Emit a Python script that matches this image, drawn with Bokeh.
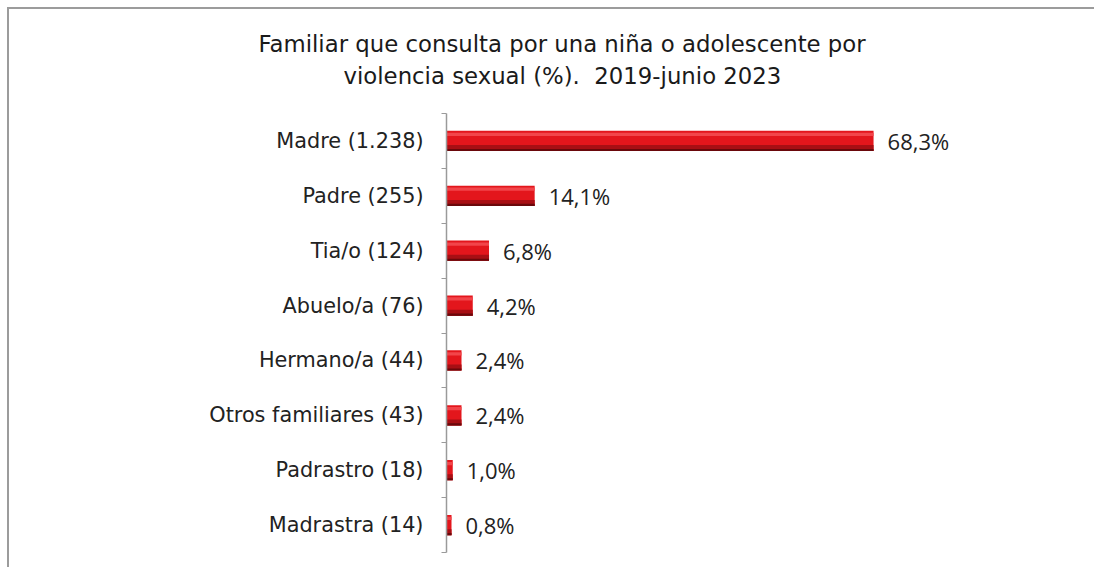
from bokeh.plotting import figure
from bokeh.layouts import column
from bokeh.models import FixedTicker, ColumnDataSource, Title
from bokeh.core.properties import value
from bokeh.embed import file_html
from bokeh.resources import INLINE
import numpy as np

categories = ["Madre (1.238)", "Padre (255)", "Tia/o (124)", "Abuelo/a (76)",
              "Hermano/a (44)", "Otros familiares (43)", "Padrastro (18)", "Madrastra (14)"]
percent = [68.3, 14.1, 6.8, 4.2, 2.4, 2.4, 1.0, 0.8]
labels = ["68,3%", "14,1%", "6,8%", "4,2%", "2,4%", "2,4%", "1,0%", "0,8%"]
title_lines = ["Familiar que consulta por una niña o adolescente por",
               "violencia sexual (%).\u00a0 2019-junio 2023"]

n = len(categories)
ypos = np.arange(n)[::-1].astype(float)  # first category on top

W, H = 1085, 558
p = figure(width=W, height=H, output_backend="svg", toolbar_location=None,
           x_range=(0, 95), y_range=(-0.5, n - 0.5),
           min_border_left=437, min_border_right=54, min_border_top=104, min_border_bottom=15,
           outline_line_color=None, background_fill_color="white", border_fill_color="white")

src = ColumnDataSource(dict(y=ypos, x=percent, lab=labels,
                            y_top=ypos + 0.12, y_bot=ypos - 0.13, y_edge=ypos - 0.165))

bh = 0.37
p.hbar(y="y", right="x", left=0, height=bh, source=src, fill_color="#e3161c", line_color=None)
p.hbar(y="y_top", right="x", left=0, height=0.06, source=src, fill_color="#f2454a", line_color=None)
p.hbar(y="y_bot", right="x", left=0, height=0.11, source=src, fill_color="#a80f14", line_color=None)
p.hbar(y="y_edge", right="x", left=0, height=0.04, source=src, fill_color="#6a080b", line_color=None)

p.text(x="x", y="y", text="lab", source=src, x_offset=14, text_baseline="middle",
       text_font=value("Open Sans"), text_font_size="22px", text_color="#222222")

p.xaxis.visible = False
p.xgrid.visible = False
p.ygrid.visible = False

ya = p.yaxis[0]
ya.ticker = FixedTicker(ticks=list(ypos), minor_ticks=list(np.arange(-0.5, n, 1.0)))
ya.major_label_overrides = {int(y): c for y, c in zip(ypos, categories)}
ya.major_tick_out = 0
ya.major_tick_in = 0
ya.minor_tick_out = 5
ya.minor_tick_in = 0
ya.minor_tick_line_color = "#9a9a9a"
ya.axis_line_color = "#9a9a9a"
ya.axis_line_width = 1.5
ya.major_label_standoff = 18
ya.major_label_text_font = "DejaVu Sans"
ya.major_label_text_font_size = "20.8px"
ya.major_label_text_color = "#222222"

p.title.text = title_lines[0]
p.title.align = "left"
p.title.offset = -188
p.title.text_font = "DejaVu Sans"
p.title.text_font_size = "22.8px"
p.title.text_font_style = "normal"
p.title.text_color = "#1a1a1a"
p.title.standoff = -42
t2 = Title(text=title_lines[1], align="left", offset=-103, text_font="DejaVu Sans",
           text_font_size="22.8px", text_font_style="normal", text_color="#1a1a1a", standoff=50)
p.add_layout(t2, "above")

layout = column(p, styles={"margin-left": "7px", "margin-top": "7px",
                           "border-left": "2px solid #9c9c9c", "border-top": "2px solid #9c9c9c"})

open("out.html", "w").write(file_html(layout, INLINE))
